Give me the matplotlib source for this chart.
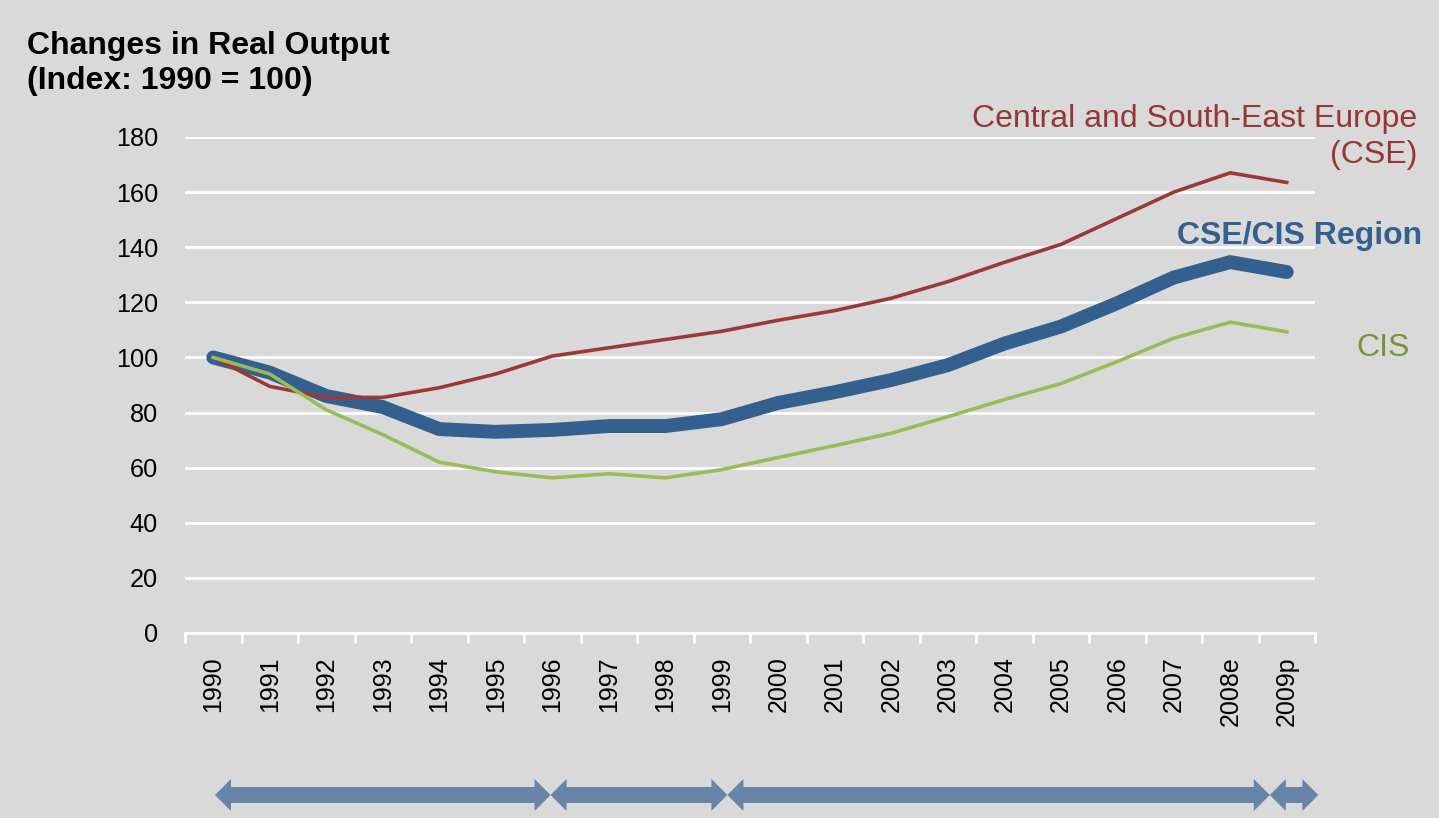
import matplotlib
matplotlib.use("Agg")
import matplotlib.pyplot as plt
from matplotlib.transforms import blended_transform_factory
from matplotlib.patches import Polygon
import numpy as np

plt.rcParams['font.family'] = ['Liberation Sans', 'DejaVu Sans']

years = ["1990", "1991", "1992", "1993", "1994", "1995", "1996", "1997", "1998", "1999",
         "2000", "2001", "2002", "2003", "2004", "2005", "2006", "2007", "2008e", "2009p"]
cse = [100, 89.5, 85.5, 85.5, 89, 94, 100.5, 103.5, 106.5, 109.5,
       113.5, 117, 121.5, 127.5, 134.5, 141, 150.5, 160, 167, 163.5]
cis = [100, 94, 81, 72, 62, 58.5, 56.3, 57.8, 56.3, 59.3,
       63.7, 68, 72.5, 78.5, 84.7, 90.5, 98.5, 107, 112.8, 109.3]
region = [100, 94.5, 86, 82, 74, 73, 73.7, 75.1, 75.1, 77.6,
          83.5, 87.4, 91.8, 97.2, 105, 111.2, 119.7, 129, 134.6, 131]
yticks = [0, 20, 40, 60, 80, 100, 120, 140, 160, 180]
# period arrows (category positions)
arrow_starts = [0.03, 5.97, 9.1, 18.7]
arrow_ends = [5.97, 9.1, 18.7, 19.56]

bg = "#d9d9d9"
W, H = 1439, 818
fig = plt.figure(figsize=(W / 100, H / 100), dpi=100, facecolor=bg)
ax = fig.add_axes([185 / W, 1 - 633 / H, 1130 / W, 496 / H], facecolor=bg)

x = np.arange(len(years))
ax.plot(x, region, color="#34608f", lw=10, solid_capstyle="round", solid_joinstyle="round", zorder=3)
ax.plot(x, cse, color="#9a3a36", lw=2.6, zorder=4)
ax.plot(x, cis, color="#9bbb59", lw=2.6, zorder=5)

ax.set_xlim(-0.5, len(years) - 0.5)
ax.set_ylim(0, 180)
ax.set_yticks(yticks)
ax.set_yticklabels([str(v) for v in yticks], fontsize=18.2)
ax.tick_params(axis="y", length=0, pad=19.5)
ax.grid(axis="y", color="white", lw=2, zorder=1)
ax.set_axisbelow(True)

ax.set_xticks(x)
ax.set_xticklabels(years, rotation=90, fontsize=18, va="top", ha="center")
ax.set_xticks(np.arange(-0.5, len(years)), minor=True)
ax.tick_params(axis="x", which="major", length=0, pad=17)
ax.tick_params(axis="x", which="minor", length=7, width=2, color="white", direction="out")

for s in ["left", "right", "top"]:
    ax.spines[s].set_visible(False)
ax.spines["bottom"].set_color("white")
ax.spines["bottom"].set_linewidth(2)

fig.text(27 / W, 1 - 31 / H, "Changes in Real Output\n(Index: 1990 = 100)",
         fontsize=23, fontweight="bold", ha="left", va="top", linespacing=1.22)

fig.text(1417 / W, 1 - 137 / H, "Central and South-East Europe\n(CSE)", color="#953735",
         fontsize=23, ha="right", va="center", multialignment="right", linespacing=1.3)
fig.text(1422 / W, 1 - 236 / H, "CSE/CIS Region", color="#34608f",
         fontsize=23, fontweight="bold", ha="right", va="center")
fig.text(1410 / W, 1 - 348 / H, "CIS", color="#77933c",
         fontsize=23, ha="right", va="center")

# double-headed period arrows drawn as polygons below the axis
trans = blended_transform_factory(ax.transData, ax.transAxes)
px_x = 1130 / len(years)   # pixels per category
px_y = 496.0               # pixels per axes fraction
yc = (633 - 795) / px_y
hl = 16 / px_x             # head length (data units)
sh = 8 / px_y              # shaft half height
hh = 16 / px_y             # head half height
for a, b in zip(arrow_starts, arrow_ends):
    pts = [(a, yc), (a + hl, yc + hh), (a + hl, yc + sh), (b - hl, yc + sh), (b - hl, yc + hh),
           (b, yc), (b - hl, yc - hh), (b - hl, yc - sh), (a + hl, yc - sh), (a + hl, yc - hh)]
    ax.add_patch(Polygon(pts, closed=True, transform=trans, clip_on=False,
                         facecolor="#6785a8", edgecolor="none"))

fig.savefig("out.png", dpi=100, facecolor=bg)
